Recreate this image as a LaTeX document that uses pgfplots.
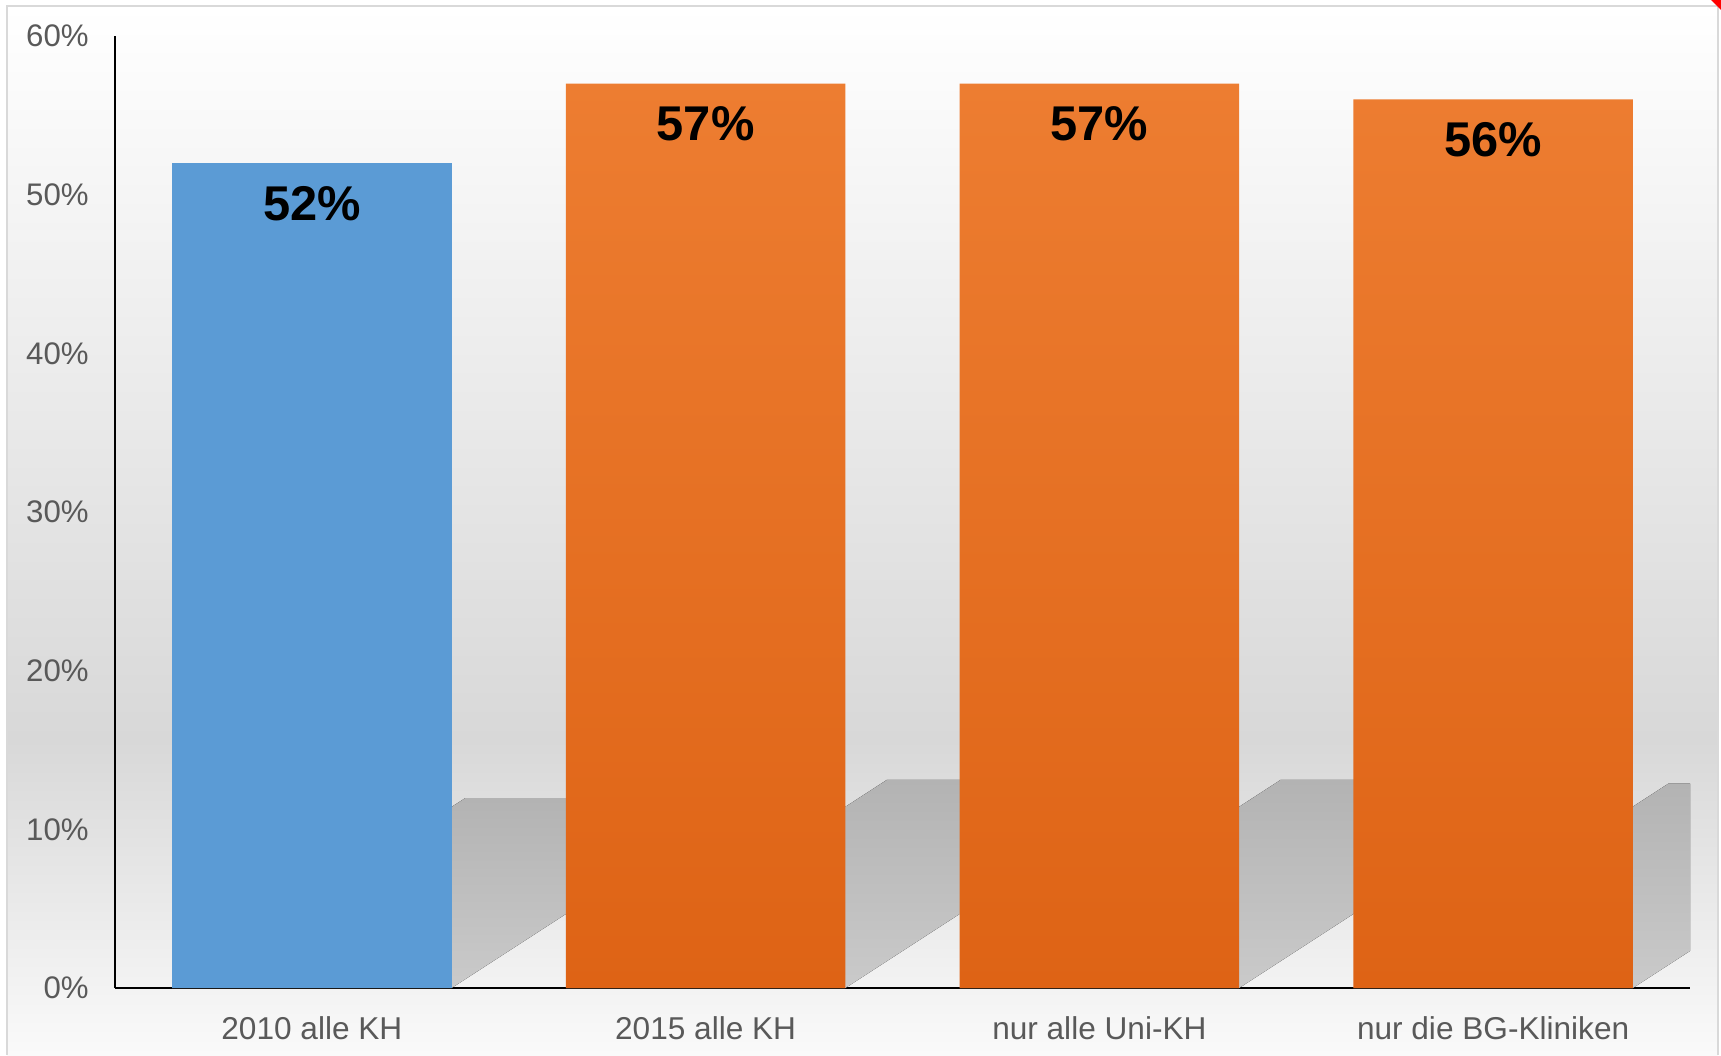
\documentclass[border=0pt]{standalone}
\usepackage{pgfplots}
\pgfplotsset{compat=1.18}
\usepackage{fontspec}
\setmainfont{Liberation Sans}
\definecolor{tickgray}{RGB}{89,89,89}
\definecolor{barblue}{RGB}{91,155,213}
\definecolor{orangetop}{RGB}{237,125,49}
\definecolor{orangebot}{RGB}{222,99,21}
\definecolor{bgmid}{RGB}{216,216,216}
\definecolor{bgbot}{RGB}{250,250,250}
\definecolor{framegray}{RGB}{217,217,217}
\definecolor{shadowtop}{RGB}{179,179,179}
\definecolor{shadowbot}{RGB}{202,202,202}
\begin{document}
\begin{tikzpicture}
% page background
\fill[white] (-57.5pt,-33.5pt) rectangle (803pt,494pt);
\shade[top color=white, bottom color=bgmid] (-54pt,124pt) rectangle (801.5pt,491pt);
\shade[top color=bgmid, bottom color=bgbot] (-54pt,-33.5pt) rectangle (801.5pt,124pt);
\draw[framegray, line width=1pt] (-54pt,-33.5pt) -- (-54pt,491pt) -- (801.5pt,491pt) -- (801.5pt,-33.5pt);
\fill[red] (798pt,494pt) -- (803pt,494pt) -- (803pt,489pt) -- cycle;
\begin{axis}[
  at={(0,0)}, anchor=south west,
  scale only axis,
  width=787.5pt, height=476pt,
  xmin=-0.5, xmax=3.5, ymin=0, ymax=60,
  ybar, bar width=0.71, bar shift=0pt,
  axis lines=left,
  axis line style={-, black, line width=1.2pt},
  major tick length=0pt,
  xtick={0,1,2,3},
  xticklabels={2010 alle KH, 2015 alle KH, nur alle Uni-KH, nur die BG-Kliniken},
  ytick={0,10,20,30,40,50,60},
  yticklabel={\pgfmathprintnumber{\tick}\%},
  /pgf/number format/assume math mode=true,
  tick label style={font=\fontsize{15.6}{18}\selectfont, text=tickgray, inner sep=0pt},
  xticklabel style={anchor=north, yshift=-14pt, font=\fontsize{15.8}{18}\selectfont},
  yticklabel style={anchor=east, xshift=-13pt},
  nodes near coords={\pgfmathprintnumber{\pgfplotspointmeta}\%},
  nodes near coords align={below},
  every node near coord/.append style={font=\fontsize{24.4}{28}\selectfont\bfseries, text=black, inner sep=0pt, yshift=-11.5pt},
  clip=true,
]
% perspective shadows (decorative)
\fill[top color=shadowtop, bottom color=shadowbot] (-0.355,0) -- (0.355,0) -- (1.099,11.96) -- (0.389,11.96) -- cycle;
\fill[top color=shadowtop, bottom color=shadowbot] (0.645,0) -- (1.355,0) -- (2.170,13.11) -- (1.460,13.11) -- cycle;
\fill[top color=shadowtop, bottom color=shadowbot] (1.645,0) -- (2.355,0) -- (3.170,13.11) -- (2.460,13.11) -- cycle;
\fill[top color=shadowtop, bottom color=shadowbot] (2.645,0) -- (3.355,0) -- (4.155,12.88) -- (3.445,12.88) -- cycle;
\addplot[draw=none, fill=barblue] coordinates {(0,52)};
\addplot[draw=none, top color=orangetop, bottom color=orangebot] coordinates {(1,57) (2,57) (3,56)};
\end{axis}
\end{tikzpicture}
\end{document}
